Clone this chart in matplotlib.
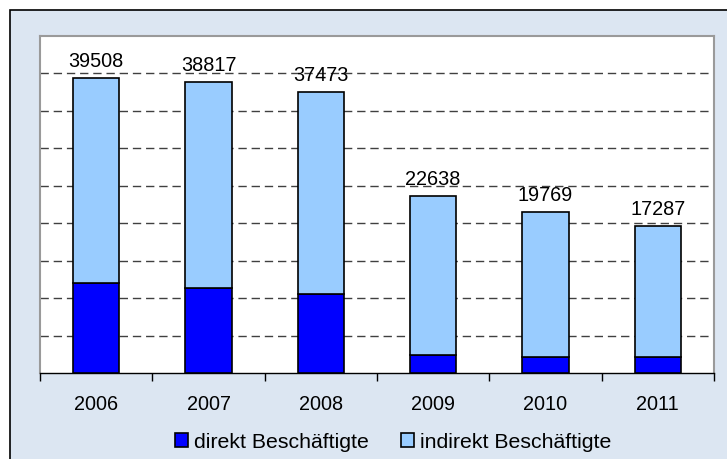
import matplotlib.pyplot as plt
import numpy as np
from matplotlib.patches import Rectangle

years = ["2006", "2007", "2008", "2009", "2010", "2011"]
# numbers printed above the bars
totals = [39508, 38817, 37473, 22638, 19769, 17287]
# segment heights as drawn in the chart
direkt = [12000, 11400, 10500, 2450, 2200, 2200]
bar_tops = [39430, 38810, 37470, 23630, 21450, 19670]
indirekt = [t - d for t, d in zip(bar_tops, direkt)]

plt.rcParams['font.family'] = ['Liberation Sans', 'DejaVu Sans']

W, H = 727, 459
fig = plt.figure(figsize=(W / 100, H / 100), dpi=100)
fig.patch.set_facecolor("white")

# outer chart frame
fig.patches.append(Rectangle((10 / W, -0.01), 1.0, 1 - 10 / H + 0.01,
                             transform=fig.transFigure, facecolor="#DCE6F2",
                             edgecolor="black", linewidth=1.2, zorder=-10))

ax = fig.add_axes([40 / W, 1 - 373 / H, (714 - 40) / W, (373 - 36) / H])
ax.set_facecolor("white")

x = np.arange(len(years))
bw = 0.41
ax.bar(x, direkt, bw, color="#0000FF", edgecolor="black", linewidth=1.2,
       label="direkt Beschäftigte", zorder=3)
ax.bar(x, indirekt, bw, bottom=direkt, color="#99CCFF", edgecolor="black",
       linewidth=1.2, label="indirekt Beschäftigte", zorder=3)

for xi, top, t in zip(x, bar_tops, totals):
    ax.annotate(str(t), (xi, top), xytext=(0, 8), textcoords="offset points",
                ha="center", va="baseline", fontsize=14.3)

ax.set_xlim(-0.5, len(years) - 0.5)
ax.set_ylim(0, 45000)
for g in range(5000, 45000, 5000):
    ax.axhline(g, color="#404040", linestyle=(0, (6, 3.5)), linewidth=1, zorder=1)

ax.set_yticks([0])
ax.tick_params(axis="y", left=False, labelleft=False)
ax.set_xticks(x)
ax.set_xticklabels(years, fontsize=14.3)
ax.tick_params(axis="x", length=0, pad=16)
ax.set_xticks(np.arange(-0.5, len(years), 1), minor=True)
ax.tick_params(axis="x", which="minor", length=6, width=1, direction="out")

for side in ["left", "top", "right"]:
    ax.spines[side].set_color("#9a9a9a")
    ax.spines[side].set_linewidth(1.5)
ax.spines["bottom"].set_color("black")
ax.spines["bottom"].set_linewidth(1)

fig.legend(loc="center", bbox_to_anchor=(0.541, 1 - 442 / H), ncol=2,
           frameon=False, fontsize=15.3, handlelength=0.6, handleheight=0.6,
           handletextpad=0.3, columnspacing=1.5)

fig.savefig("out.png", dpi=100)
